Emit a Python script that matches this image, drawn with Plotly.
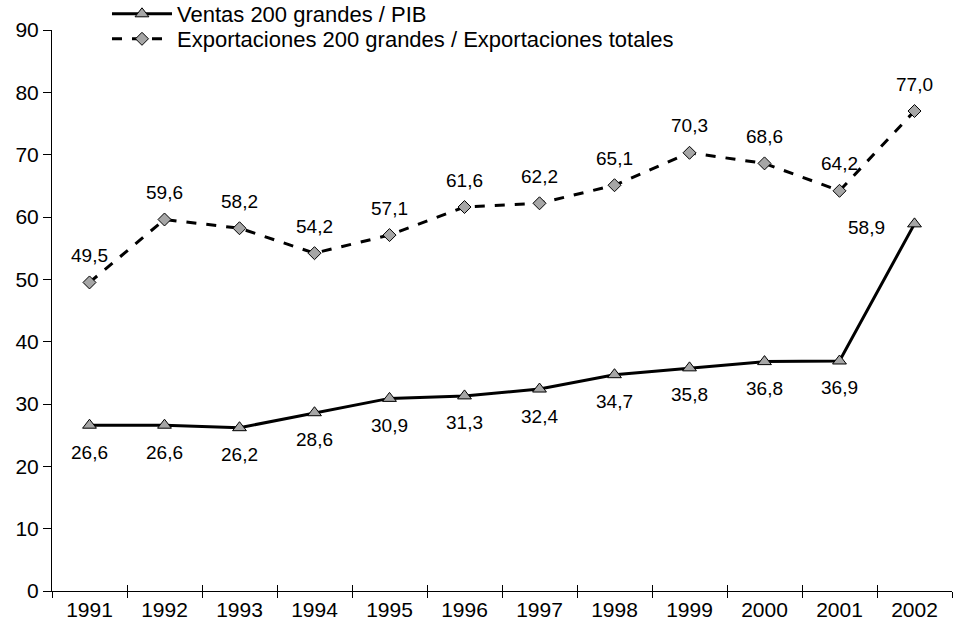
import plotly.graph_objects as go

years = ["1991", "1992", "1993", "1994", "1995", "1996", "1997", "1998", "1999", "2000", "2001", "2002"]
ventas = [26.6, 26.6, 26.2, 28.6, 30.9, 31.3, 32.4, 34.7, 35.8, 36.8, 36.9, 58.9]
export = [49.5, 59.6, 58.2, 54.2, 57.1, 61.6, 62.2, 65.1, 70.3, 68.6, 64.2, 77.0]
y_ticks = [0, 10, 20, 30, 40, 50, 60, 70, 80, 90]

def fmt(v):
    return f"{v:.1f}".replace(".", ",")

FONT = "Liberation Sans, Arial, sans-serif"
FS_LBL = 19
FS_TICK = 21
FS_LEG = 22
fig = go.Figure()

fig.add_trace(go.Scatter(
    x=years, y=ventas, mode="lines+markers",
    name="Ventas 200 grandes / PIB",
    line=dict(color="black", width=3),
    marker=dict(symbol="triangle-up", size=12, color="#A6A6A6", line=dict(color="black", width=1)),
    cliponaxis=False, legend="legend",
))
fig.add_trace(go.Scatter(
    x=years, y=export, mode="lines+markers",
    name="Exportaciones 200 grandes / Exportaciones totales",
    line=dict(color="black", width=3, dash="10px,10px"),
    marker=dict(symbol="diamond", size=10, color="#A6A6A6", line=dict(color="black", width=1)),
    cliponaxis=False, legend="legend2",
))
# helper (empty) trace on an overlaid axis: draws the inward half of the crossing x ticks
fig.add_trace(go.Scatter(x=years, y=[None] * len(years), xaxis="x2", mode="lines",
                         showlegend=False, hoverinfo="skip"))

annotations = []
for i, v in enumerate(ventas):
    last = i == len(years) - 1
    annotations.append(dict(x=i, y=v, xref="x", yref="y", text=fmt(v), showarrow=False,
                            xshift=-48 if last else 0, yshift=-4 if last else -27,
                            font=dict(size=FS_LBL, color="black", family=FONT)))
for i, v in enumerate(export):
    annotations.append(dict(x=i, y=v, xref="x", yref="y", text=fmt(v), showarrow=False,
                            yshift=27, font=dict(size=FS_LBL, color="black", family=FONT)))

leg_common = dict(xanchor="left", yanchor="middle", bgcolor="rgba(0,0,0,0)",
                  font=dict(size=FS_LEG, family=FONT, color="black"), itemwidth=60)

fig.update_layout(
    width=959, height=631,
    margin=dict(l=52, r=7, t=0, b=40, autoexpand=False),
    paper_bgcolor="white", plot_bgcolor="white",
    font=dict(family=FONT, size=FS_TICK, color="black"),
    showlegend=True,
    legend=dict(x=0.0611, y=(591 - 14) / 591, **leg_common),
    legend2=dict(x=0.0611, y=(591 - 39) / 591, **leg_common),
    annotations=annotations,
    xaxis=dict(type="category", range=[-0.5, 11.5], tickson="boundaries",
               categoryorder="array", categoryarray=years,
               showline=True, linecolor="black", linewidth=1,
               ticks="outside", ticklen=6, tickcolor="black",
               showgrid=False, zeroline=False, tickfont=dict(size=FS_TICK)),
    xaxis2=dict(type="category", range=[-0.5, 11.5], tickson="boundaries",
                categoryorder="array", categoryarray=years,
                overlaying="x", anchor="y", side="bottom",
                ticks="inside", ticklen=6, tickcolor="black",
                showticklabels=False, showgrid=False, showline=False, zeroline=False),
    yaxis=dict(range=[0, 90], tickvals=y_ticks, domain=[0, 561 / 591],
               showline=True, linecolor="black", linewidth=1,
               ticks="outside", ticklen=8, tickcolor="black", showgrid=False, zeroline=False,
               tickfont=dict(size=FS_TICK), automargin=False),
)

fig.write_html("out.html", config={"displayModeBar": False},
               post_script="document.body.style.margin='0';")
